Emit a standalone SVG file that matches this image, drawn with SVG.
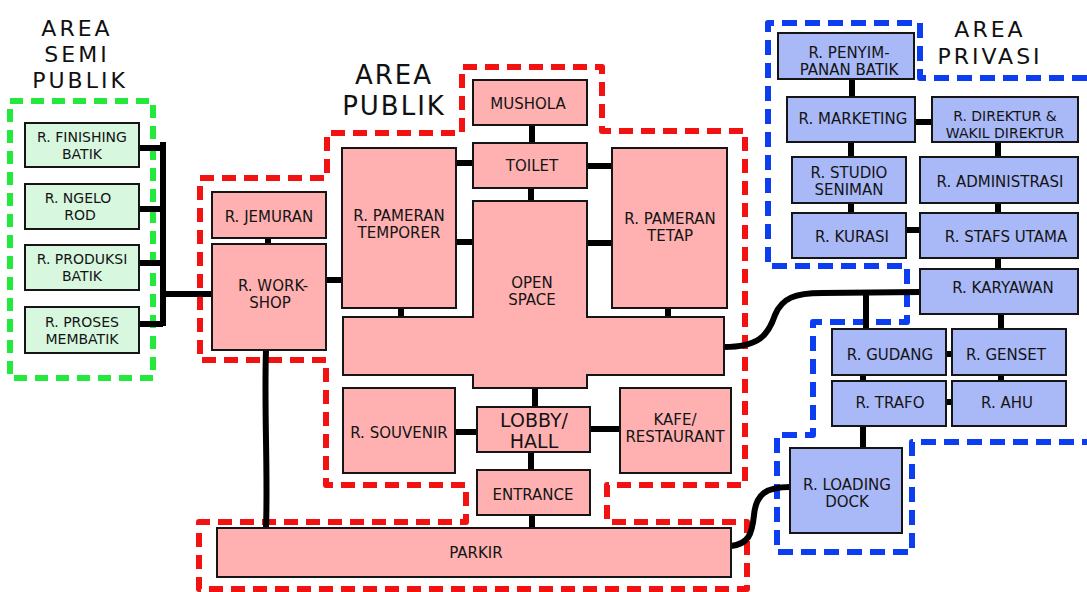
<svg xmlns="http://www.w3.org/2000/svg" width="1087" height="592" viewBox="0 0 1087 592">
  <style>
    .pub { fill: #ffb1b1; stroke: #151515; stroke-width: 2; }
    .semi { fill: #d8f7df; stroke: #151515; stroke-width: 2; }
    .priv { fill: #a9b8f7; stroke: #151515; stroke-width: 2; }
    .lbl { font-family: "DejaVu Sans", "Liberation Sans", sans-serif; font-size: 15px; fill: #141414; text-anchor: middle; }
    .sm { font-size: 14px; }
    .big { font-size: 19px; }
    .title { font-family: "DejaVu Sans", "Liberation Sans", sans-serif; font-size: 26px; fill: #111; text-anchor: middle; letter-spacing: 2px; }
    .tsm { font-size: 22px; letter-spacing: 3px; }
    .zone { fill: none; stroke-width: 6; stroke-linejoin: round; }
    .zr { stroke: #f21212; stroke-dasharray: 14 8; }
    .zb { stroke: #0c3df0; stroke-dasharray: 15 8; }
    .zg { stroke: #25e83c; stroke-dasharray: 13 8; }
    .link { fill: none; stroke: #000; stroke-width: 6; stroke-linecap: butt; stroke-linejoin: round; }
  </style>

  <rect width="1087" height="592" fill="#ffffff"/>

  <!-- zone boundaries -->
  <g id="zones">
    <rect class="zone zg" x="10" y="101" width="143" height="277"/>
    <path class="zone zr" d="M200,178 H327 V133 H462 V67 H602 V131 H745 V485 H607 V522 H747 V589 H199 V522 H466 V485 H326 V360 H200 Z"/>
    <path class="zone zb" d="M1087,78 H920 V23 H768 V266 H907 V322 H813 V435 H777 V552 H912 V442 H1087"/>
  </g>

  <!-- zone titles -->
  <g id="titles">
    <text class="title tsm" x="77" y="36">AREA</text>
    <text class="title tsm" x="77" y="62">SEMI</text>
    <text class="title tsm" x="80" y="88">PUBLIK</text>
    <text class="title" x="394" y="84">AREA</text>
    <text class="title" x="394" y="115">PUBLIK</text>
    <text class="title tsm" x="990" y="37">AREA</text>
    <text class="title tsm" x="990" y="64">PRIVASI</text>
  </g>

  <!-- connectors -->
  <g id="connectors">
    <!-- semi-public bus -->
    <path class="link" d="M163,142 V326"/>
    <path class="link" d="M139,148 H163"/>
    <path class="link" d="M139,209 H163"/>
    <path class="link" d="M139,263 H163"/>
    <path class="link" d="M139,324 H163"/>
    <path class="link" d="M163,294 H212"/>
    <!-- public -->
    <path class="link" d="M532,125 V143"/>
    <path class="link" d="M531,188 V201"/>
    <path class="link" d="M456,163 H473"/>
    <path class="link" d="M587,166 H612"/>
    <path class="link" d="M456,242 H473"/>
    <path class="link" d="M587,243 H612"/>
    <path class="link" d="M401,308 V317"/>
    <path class="link" d="M668,308 V317"/>
    <path class="link" d="M268,238 V244"/>
    <path class="link" d="M326,280 H342"/>
    <path class="link" d="M535,388 V407"/>
    <path class="link" d="M531,452 V470"/>
    <path class="link" d="M532,515 V528"/>
    <path class="link" d="M455,432 H477"/>
    <path class="link" d="M590,429 H620"/>
    <path class="link" d="M266,350 C264,410 268,470 266,528"/>
    <!-- public to private -->
    <path class="link" d="M724,347 C758,347 768,336 775,315 C782,298 795,293 822,293 L920,292"/>
    <path class="link" d="M866,293 V329"/>
    <path class="link" d="M731,546 C748,544 752,535 754,515 C756,494 766,487 790,487"/>
    <!-- private -->
    <path class="link" d="M852,79 V97"/>
    <path class="link" d="M915,122 H932"/>
    <path class="link" d="M851,142 V157"/>
    <path class="link" d="M998,142 V157"/>
    <path class="link" d="M851,203 V213"/>
    <path class="link" d="M998,203 V213"/>
    <path class="link" d="M906,230 H920"/>
    <path class="link" d="M998,258 V269"/>
    <path class="link" d="M1001,314 V329"/>
    <path class="link" d="M946,354 H952"/>
    <path class="link" d="M863,375 V381"/>
    <path class="link" d="M1001,375 V381"/>
    <path class="link" d="M946,402 H952"/>
    <path class="link" d="M863,426 V448"/>
  </g>

  <!-- semi-public rooms -->
  <g id="r-finishing-batik"><rect class="semi" x="25" y="123" width="114" height="44"/><text class="lbl sm" x="82" y="142">R. FINISHING</text><text class="lbl sm" x="82" y="159">BATIK</text></g>
  <g id="r-ngelo-rod"><rect class="semi" x="25" y="184" width="114" height="45"/><text class="lbl sm" x="78" y="203">R. NGELO</text><text class="lbl sm" x="80" y="220">ROD</text></g>
  <g id="r-produksi-batik"><rect class="semi" x="25" y="245" width="114" height="45"/><text class="lbl sm" x="82" y="264">R. PRODUKSI</text><text class="lbl sm" x="82" y="281">BATIK</text></g>
  <g id="r-proses-membatik"><rect class="semi" x="25" y="307" width="114" height="46"/><text class="lbl sm" x="82" y="327">R. PROSES</text><text class="lbl sm" x="82" y="344">MEMBATIK</text></g>

  <!-- public rooms -->
  <g id="mushola"><rect class="pub" x="473" y="80" width="114" height="45"/><text class="lbl" x="528" y="109">MUSHOLA</text></g>
  <g id="toilet"><rect class="pub" x="473" y="143" width="114" height="45"/><text class="lbl" x="532" y="171">TOILET</text></g>
  <g id="open-space"><path class="pub" d="M473,201 H587 V317 H724 V375 H587 V388 H473 V375 H343 V317 H473 Z"/><text class="lbl" x="532" y="288">OPEN</text><text class="lbl" x="532" y="305">SPACE</text></g>
  <g id="r-pameran-temporer"><rect class="pub" x="342" y="148" width="114" height="160"/><text class="lbl" x="399" y="221">R. PAMERAN</text><text class="lbl" x="399" y="238">TEMPORER</text></g>
  <g id="r-pameran-tetap"><rect class="pub" x="612" y="148" width="115" height="160"/><text class="lbl" x="670" y="224">R. PAMERAN</text><text class="lbl" x="670" y="241">TETAP</text></g>
  <g id="r-jemuran"><rect class="pub" x="212" y="192" width="114" height="46"/><text class="lbl" x="269" y="222">R. JEMURAN</text></g>
  <g id="r-workshop"><rect class="pub" x="212" y="244" width="114" height="106"/><text class="lbl" x="273" y="291">R. WORK-</text><text class="lbl" x="270" y="308">SHOP</text></g>
  <g id="r-souvenir"><rect class="pub" x="343" y="388" width="112" height="85"/><text class="lbl" x="399" y="438">R. SOUVENIR</text></g>
  <g id="lobby-hall"><rect class="pub" x="477" y="407" width="113" height="45"/><text class="lbl big" x="534" y="427">LOBBY/</text><text class="lbl big" x="534" y="448">HALL</text></g>
  <g id="kafe-restaurant"><rect class="pub" x="620" y="388" width="111" height="85"/><text class="lbl" x="675" y="425">KAFE/</text><text class="lbl" x="675" y="442">RESTAURANT</text></g>
  <g id="entrance"><rect class="pub" x="477" y="470" width="113" height="45"/><text class="lbl" x="533" y="500">ENTRANCE</text></g>
  <g id="parkir"><rect class="pub" x="217" y="528" width="514" height="49"/><text class="lbl" x="476" y="558">PARKIR</text></g>

  <!-- private rooms -->
  <g id="r-penyimpanan-batik"><rect class="priv" x="778" y="33" width="136" height="46"/><text class="lbl" x="849" y="58">R. PENYIM-</text><text class="lbl" x="849" y="75">PANAN BATIK</text></g>
  <g id="r-marketing"><rect class="priv" x="787" y="97" width="128" height="45"/><text class="lbl" x="853" y="124">R. MARKETING</text></g>
  <g id="r-direktur"><rect class="priv" x="932" y="97" width="146" height="45"/><text class="lbl sm" x="1005" y="121">R. DIREKTUR &amp;</text><text class="lbl sm" x="1005" y="138">WAKIL DIREKTUR</text></g>
  <g id="r-studio-seniman"><rect class="priv" x="792" y="157" width="114" height="46"/><text class="lbl" x="849" y="178">R. STUDIO</text><text class="lbl" x="849" y="195">SENIMAN</text></g>
  <g id="r-administrasi"><rect class="priv" x="920" y="157" width="158" height="46"/><text class="lbl" x="1000" y="187">R. ADMINISTRASI</text></g>
  <g id="r-kurasi"><rect class="priv" x="792" y="213" width="114" height="45"/><text class="lbl" x="852" y="242">R. KURASI</text></g>
  <g id="r-stafs-utama"><rect class="priv" x="920" y="213" width="158" height="45"/><text class="lbl" x="1006" y="242">R. STAFS UTAMA</text></g>
  <g id="r-karyawan"><rect class="priv" x="920" y="269" width="158" height="45"/><text class="lbl" x="1003" y="293">R. KARYAWAN</text></g>
  <g id="r-gudang"><rect class="priv" x="832" y="329" width="114" height="46"/><text class="lbl" x="890" y="360">R. GUDANG</text></g>
  <g id="r-genset"><rect class="priv" x="952" y="329" width="114" height="46"/><text class="lbl" x="1006" y="360">R. GENSET</text></g>
  <g id="r-trafo"><rect class="priv" x="832" y="381" width="114" height="45"/><text class="lbl" x="890" y="408">R. TRAFO</text></g>
  <g id="r-ahu"><rect class="priv" x="952" y="381" width="114" height="45"/><text class="lbl" x="1007" y="408">R. AHU</text></g>
  <g id="r-loading-dock"><rect class="priv" x="790" y="448" width="112" height="85"/><text class="lbl" x="847" y="490">R. LOADING</text><text class="lbl" x="847" y="507">DOCK</text></g>
</svg>
